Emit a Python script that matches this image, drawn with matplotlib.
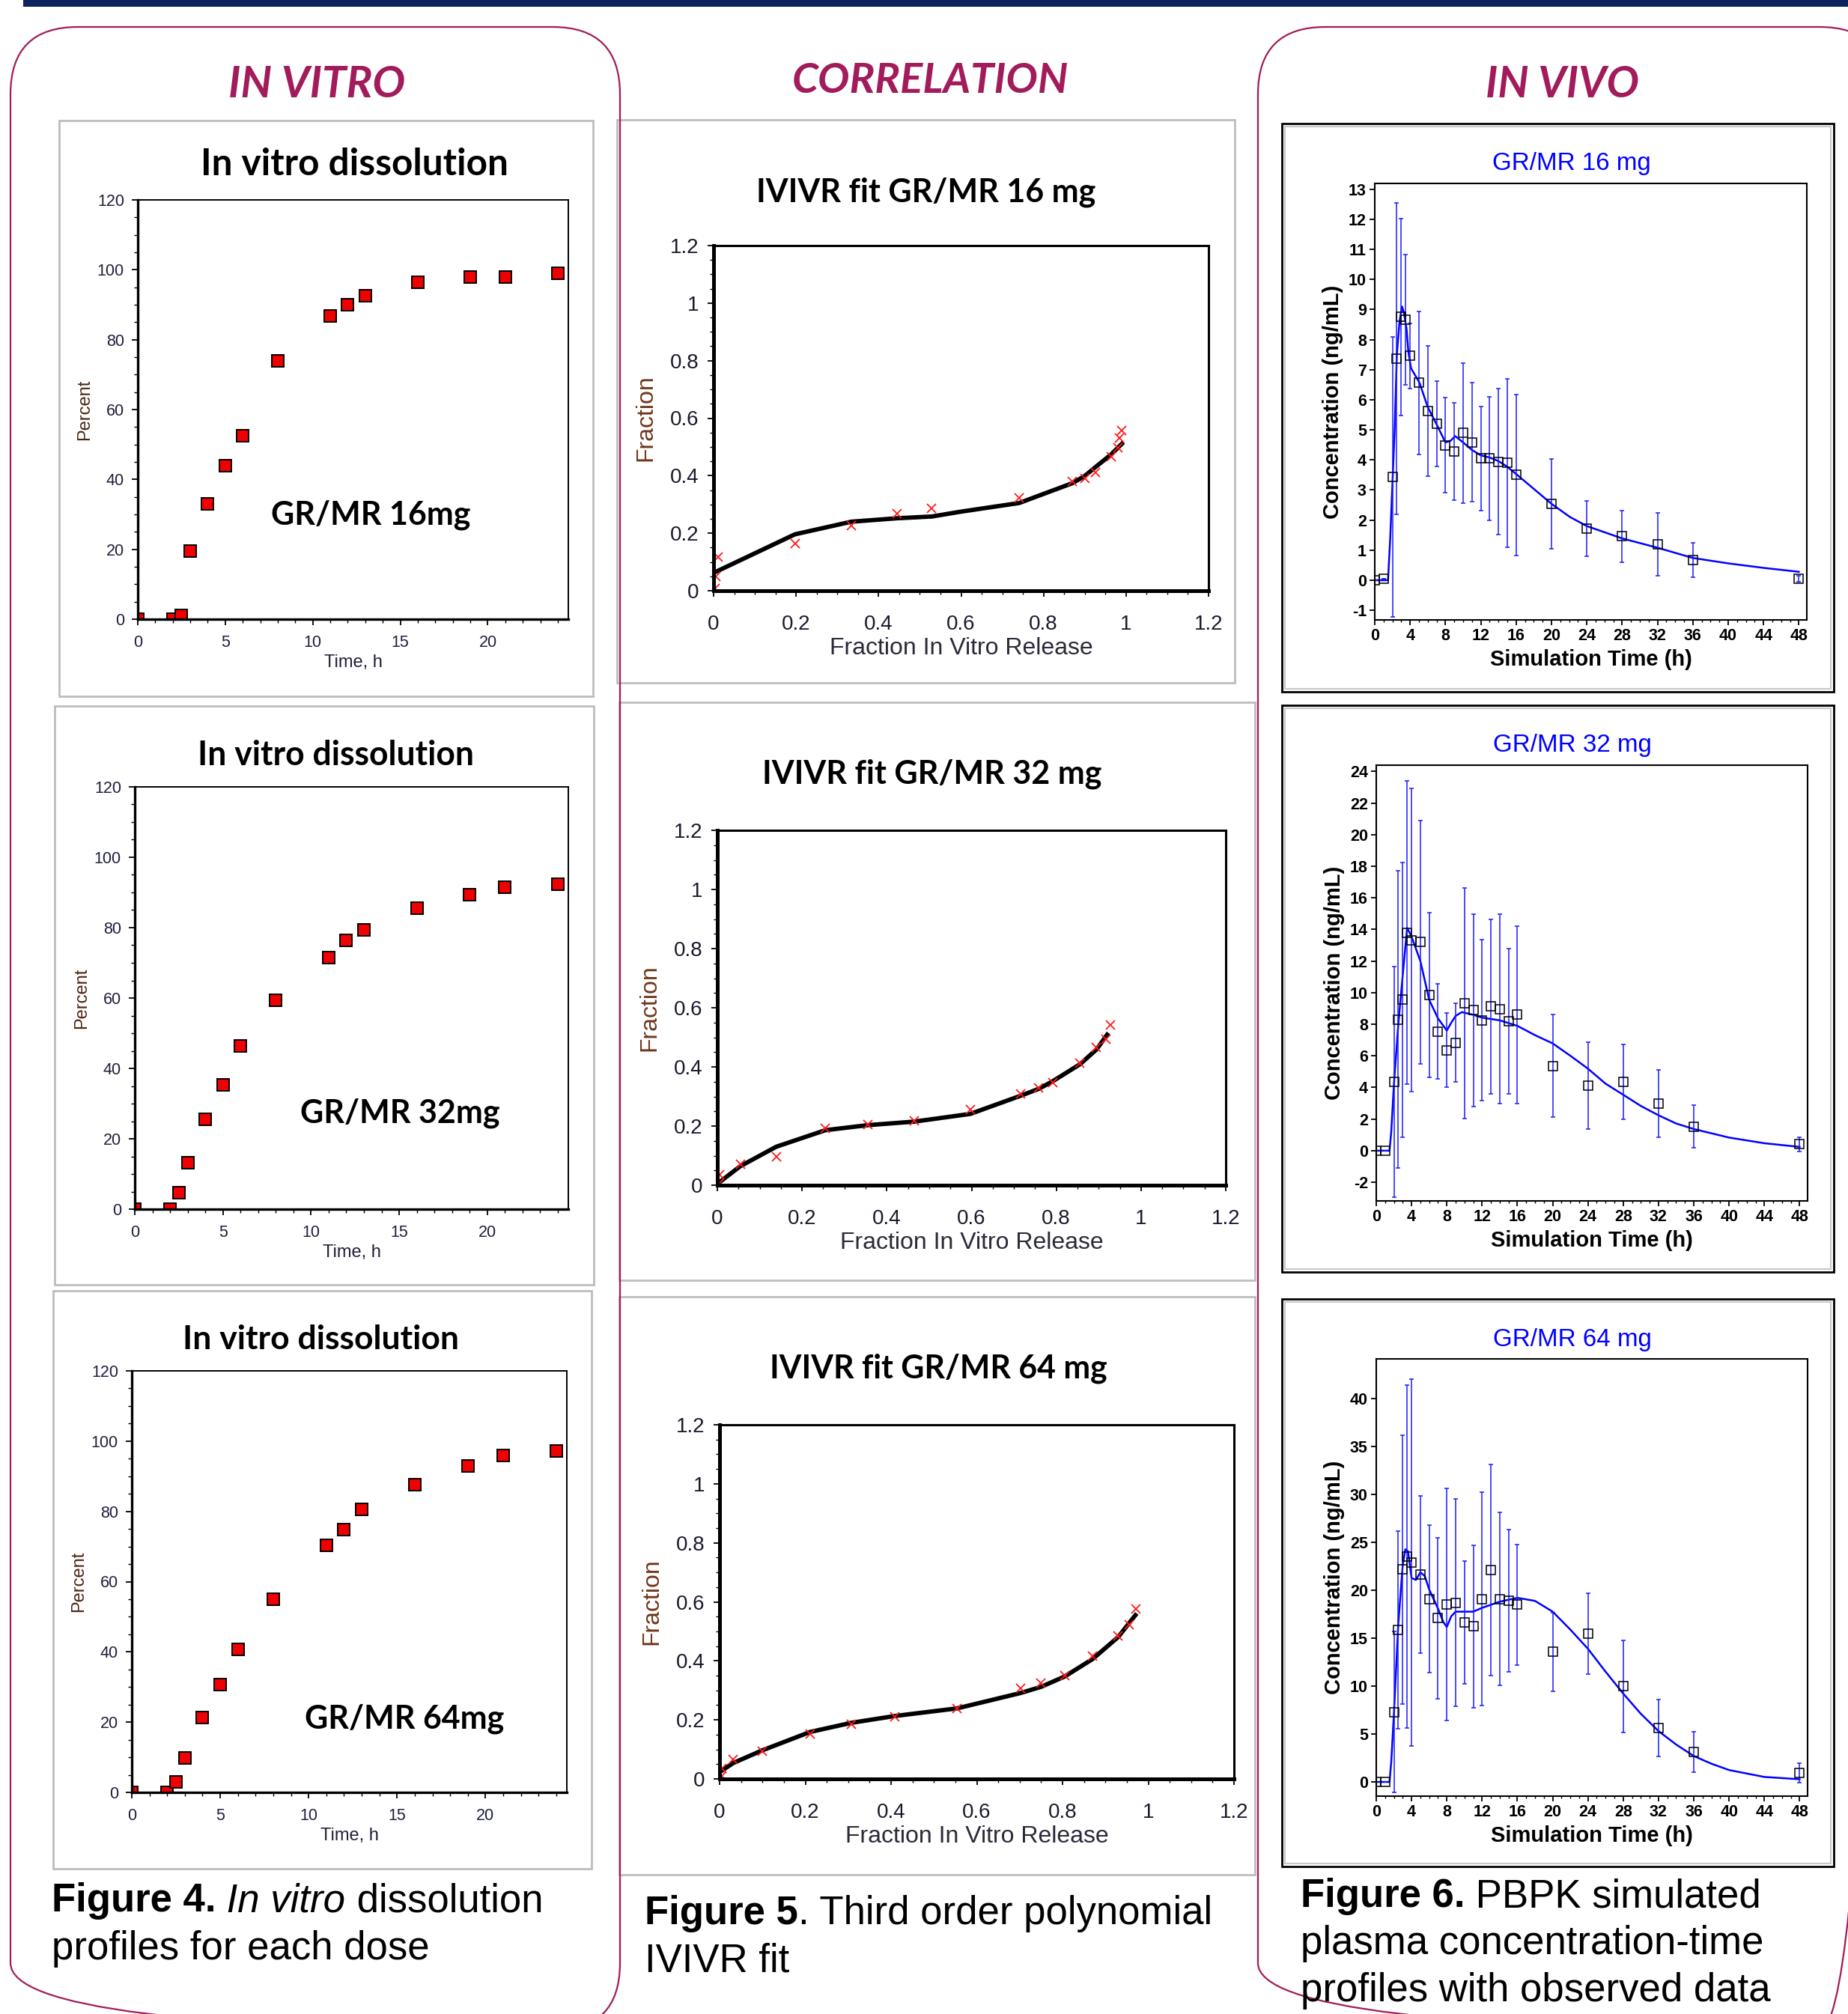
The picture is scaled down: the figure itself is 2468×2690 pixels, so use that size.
import matplotlib.pyplot as plt
from matplotlib.patches import FancyBboxPatch, Rectangle
from matplotlib.ticker import MultipleLocator, FuncFormatter

plt.rcParams['font.family'] = ['Liberation Sans', 'DejaVu Sans']
plt.rcParams['axes.unicode_minus'] = False

W, H = 2468, 2690
CRIMSON = '#A21B5B'
NAVY = '#0B2160'
TITLE_FONT = ['Lato', 'DejaVu Sans']

# ---- in vitro dissolution (percent released vs time, h) ----
vitro_time = [0, 2, 2.5, 3, 4, 5, 6, 8, 11, 12, 13, 16, 19, 21, 24]
vitro_16 = [0, 0, 1, 19.5, 33, 44, 52.5, 74, 86.8, 90, 92.6, 96.4, 98, 98, 99]
vitro_32 = [0, 0, 4.6, 13.2, 25.5, 35.3, 46.3, 59.3, 71.5, 76.3, 79.3, 85.5, 89.4, 91.5, 92.4]
vitro_64 = [0, 0, 2.9, 9.8, 21.4, 30.6, 40.8, 54.9, 70.4, 74.9, 80.5, 87.7, 92.9, 95.9, 97.1]

# ---- IVIVR: observed fraction (red x) and fitted line ----
ivivr_16_obs_x = [0.01, 0.005, 0.004, 0.197, 0.334, 0.445, 0.529, 0.741, 0.870, 0.900, 0.926, 0.964, 0.981, 0.984, 0.990]
ivivr_16_obs_y = [0.118, 0.05, 0.009, 0.164, 0.227, 0.268, 0.287, 0.324, 0.380, 0.390, 0.411, 0.467, 0.498, 0.530, 0.557]
ivivr_16_fit_x = [0, 0.197, 0.334, 0.445, 0.529, 0.6, 0.741, 0.870, 0.900, 0.926, 0.964, 0.990]
ivivr_16_fit_y = [0.062, 0.196, 0.240, 0.252, 0.258, 0.275, 0.305, 0.374, 0.399, 0.430, 0.474, 0.511]

ivivr_32_obs_x = [0.006, 0.004, 0.054, 0.139, 0.255, 0.355, 0.465, 0.597, 0.715, 0.759, 0.791, 0.856, 0.895, 0.917, 0.927]
ivivr_32_obs_y = [0.035, 0.006, 0.070, 0.097, 0.192, 0.206, 0.217, 0.256, 0.310, 0.328, 0.347, 0.413, 0.465, 0.494, 0.541]
ivivr_32_fit_x = [0.004, 0.054, 0.139, 0.255, 0.355, 0.465, 0.597, 0.715, 0.759, 0.791, 0.856, 0.895, 0.920]
ivivr_32_fit_y = [0.009, 0.064, 0.130, 0.186, 0.203, 0.215, 0.241, 0.302, 0.326, 0.351, 0.409, 0.459, 0.509]

ivivr_64_obs_x = [0.006, 0.005, 0.032, 0.100, 0.211, 0.307, 0.408, 0.554, 0.702, 0.750, 0.805, 0.870, 0.930, 0.956, 0.972]
ivivr_64_obs_y = [0.035, 0.009, 0.065, 0.093, 0.152, 0.186, 0.210, 0.239, 0.307, 0.324, 0.350, 0.417, 0.485, 0.522, 0.577]
ivivr_64_fit_x = [0.0, 0.032, 0.100, 0.211, 0.307, 0.408, 0.554, 0.702, 0.750, 0.805, 0.870, 0.930, 0.970]
ivivr_64_fit_y = [0.023, 0.054, 0.097, 0.159, 0.190, 0.213, 0.239, 0.291, 0.312, 0.347, 0.406, 0.481, 0.555]

# ---- in vivo: observed mean +/- sd and PBPK simulation (ng/mL) ----
vivo_time = [0, 1, 2, 2.5, 3, 3.5, 4, 5, 6, 7, 8, 9, 10, 11, 12, 13, 14, 15, 16, 20, 24, 28, 32, 36, 48]

vivo_16_obs = [0, 0.06, 3.44, 7.36, 8.75, 8.66, 7.46, 6.56, 5.63, 5.2, 4.49, 4.29, 4.89, 4.58, 4.05, 4.05,
               3.94, 3.9, 3.5, 2.54, 1.71, 1.46, 1.2, 0.68, 0.04]
vivo_16_sd = [0, 0, 4.65, 5.18, 3.28, 2.16, 1.08, 2.38, 2.16, 1.42, 1.58, 1.62, 2.33, 1.98, 1.73, 2.05,
              2.43, 2.8, 2.68, 1.49, 0.92, 0.86, 1.04, 0.57, 0.1]
sim_16_t = [0, 1.5, 1.75, 2.04, 2.25, 2.5, 2.8, 3.08, 3.3, 3.6, 3.8, 4.1, 5.07, 6, 7.07, 8, 8.6, 9.1, 10, 11,
            12, 13, 14, 15, 16, 17.5, 20, 22.1, 24, 28, 32, 36, 40, 44, 48]
sim_16_c = [0, 0, 1.4, 3.5, 5.0, 7.5, 8.6, 9.1, 8.9, 8.35, 7.6, 7.05, 6.56, 5.75, 5.14, 4.58, 4.64, 4.79, 4.58,
            4.33, 4.15, 4.08, 3.96, 3.77, 3.53, 3.16, 2.54, 2.1, 1.8, 1.39, 1.08, 0.74, 0.56, 0.41, 0.28]

vivo_32_obs = [0, 0, 4.36, 8.3, 9.55, 13.79, 13.32, 13.2, 9.85, 7.54, 6.36, 6.84, 9.31, 8.89, 8.25, 9.12,
               8.96, 8.2, 8.6, 5.37, 4.13, 4.36, 2.99, 1.53, 0.42]
vivo_32_sd = [0, 0, 7.3, 9.4, 8.7, 9.6, 9.6, 7.7, 5.2, 3.0, 2.36, 2.5, 7.3, 6.1, 5.1, 5.5, 6.0, 4.6, 5.6,
              3.24, 2.74, 2.36, 2.13, 1.35, 0.45]
sim_32_t = [0, 1.5, 1.7, 2.0, 2.5, 3.0, 3.5, 4.0, 5.0, 6.0, 7.0, 8.0, 8.5, 9.0, 9.7, 11, 12, 14, 16, 18, 20,
            22, 24, 26, 28, 30, 32, 34, 36, 40, 44, 48]
sim_32_c = [0, 0, 1.2, 4.2, 8.0, 11.1, 14.1, 13.55, 12.0, 9.55, 8.37, 7.6, 8.1, 8.53, 8.77, 8.6, 8.42, 8.25,
            7.9, 7.31, 6.79, 6.01, 5.19, 4.24, 3.54, 2.83, 2.24, 1.72, 1.37, 0.83, 0.47, 0.24]

vivo_64_obs = [0, 0, 7.3, 15.88, 22.14, 23.5, 22.86, 21.6, 19.07, 17.07, 18.47, 18.67, 16.6, 16.2, 19.07,
               22.06, 19.07, 18.87, 18.47, 13.56, 15.44, 9.97, 5.62, 3.11, 0.92]
vivo_64_sd = [0, 0, 8.4, 10.3, 14.0, 17.9, 19.1, 8.2, 7.7, 8.4, 12.1, 10.8, 6.4, 8.5, 11.1, 11.0, 9.0, 7.4,
              6.3, 4.1, 4.2, 4.8, 3.0, 2.1, 1.0]
sim_64_t = [0, 1.5, 1.7, 2.0, 2.5, 3.0, 3.3, 3.6, 4.0, 4.5, 5.0, 5.5, 6.0, 7.0, 7.6, 8.0, 8.5, 9.0, 10, 11,
            12, 14, 16, 18, 20, 22, 24, 26, 28, 30, 32, 34, 36, 38, 40, 44, 48]
sim_64_c = [0, 0, 2.1, 7.1, 16.5, 22.6, 24.25, 24.05, 21.26, 21.06, 21.86, 21.46, 20.06, 18.07, 16.67, 16.15,
            17.27, 17.75, 17.75, 17.75, 18.15, 18.79, 19.19, 18.87, 17.75, 15.88, 13.88, 11.49, 9.21, 7.1,
            5.3, 3.9, 2.7, 1.9, 1.24, 0.52, 0.28]

fig = plt.figure(figsize=(W / 100, H / 100), dpi=100)
renderer = fig.canvas.get_renderer()

# background layer in pixel units (y down)
bg = fig.add_axes([0, 0, 1, 1])
bg.set_xlim(0, W)
bg.set_ylim(H, 0)
bg.axis('off')


def add_ax(rect):
    l, t, r, b = rect
    return fig.add_axes([l / W, 1 - b / H, (r - l) / W, (b - t) / H])


def fit(txt, width):
    w = txt.get_window_extent(renderer).width
    txt.set_fontsize(txt.get_fontsize() * width / w)


def place_labels(ax, rect, xdy, ydx):
    l, t, r, b = rect
    ax.xaxis.set_label_coords(0.5, -xdy / (b - t))
    ax.yaxis.set_label_coords(-ydx / (r - l), 0.5)
    ax.xaxis.label.set_va('center')
    ax.yaxis.label.set_va('center')


def caption(x, y, parts, size=38):
    for s, weight, style in parts:
        kw = dict(fontsize=size, fontweight=weight, fontstyle=style)
        bg.text(x, y, s, va='baseline', ha='left', **kw)
        probe = bg.text(0, 0, s + '|', **kw)
        bar = bg.text(0, 0, '|', **kw)
        x += probe.get_window_extent(renderer).width - bar.get_window_extent(renderer).width
        probe.remove()
        bar.remove()


# ── frames ─────────────────────────────────────────
bg.add_patch(Rectangle((31, 0), W - 31, 9, color=NAVY, lw=0))

vitro_boxes = [(79, 161, 792, 930), (73, 943, 793, 1716), (71, 1724, 790, 2496)]
corr_boxes = [(824, 160, 1649, 912), (827, 938, 1676, 1710), (827, 1732, 1676, 2504)]
vivo_boxes = [(1712, 165, 2449, 924), (1712, 942, 2449, 1699), (1712, 1735, 2449, 2493)]

for x0, y0, x1, y1 in vitro_boxes + corr_boxes:
    bg.add_patch(Rectangle((x0, y0), x1 - x0, y1 - y0, fc='white', ec='#BDBDBD', lw=2))
for x0, y0, x1, y1 in vivo_boxes:
    bg.add_patch(Rectangle((x0, y0), x1 - x0, y1 - y0, fc='white', ec='black', lw=2))
    bg.add_patch(Rectangle((x0 + 4, y0 + 4), x1 - x0 - 8, y1 - y0 - 8, fc='none', ec='#C8C8C8', lw=1.5))

for x0, x1 in [(14, 828), (1680, 2520)]:
    bg.add_patch(FancyBboxPatch((x0, 36), x1 - x0, 2712 - 36, boxstyle='round,pad=0,rounding_size=90',
                                fc='none', ec=CRIMSON, lw=1.6))

for txt, cx, cy, w in [('IN VITRO', 423, 109, 236), ('CORRELATION', 1242, 103, 369), ('IN VIVO', 2086, 108, 205)]:
    t = bg.text(cx, cy, txt, ha='center', va='center_baseline', color=CRIMSON, fontsize=40,
                fontweight='bold', fontstyle='italic', family=TITLE_FONT)
    fit(t, w)

# ── in vitro dissolution ───────────────────────────
vitro_rects = [(184, 267, 759, 827), (180, 1051, 759, 1615), (176, 1831, 757, 2394)]
vitro_titles = [(473, 215, 411), (448, 1005, 370), (428, 1786, 369)]
vitro_tags = [('GR/MR 16mg', 13.3, 30.7), ('GR/MR 32mg', 15.05, 28.0), ('GR/MR 64mg', 15.4, 21.7)]

for rect, values, (cx, cy, tw), (tag, tx, ty) in zip(vitro_rects, [vitro_16, vitro_32, vitro_64],
                                                     vitro_titles, vitro_tags):
    ax = add_ax(rect)
    ax.plot(vitro_time, values, 's', ms=12, mfc='#F00000', mec='black', mew=1.4)
    ax.set_xlim(0, 24.6)
    ax.set_ylim(0, 120)
    ax.xaxis.set_major_locator(MultipleLocator(5))
    ax.xaxis.set_minor_locator(MultipleLocator(1))
    ax.yaxis.set_major_locator(MultipleLocator(20))
    ax.yaxis.set_minor_locator(MultipleLocator(5))
    ax.tick_params(which='major', direction='out', length=6, width=1.3, labelsize=15.5, labelcolor='#1F1F3D')
    ax.tick_params(which='minor', direction='out', length=3.5, width=1)
    ax.tick_params(axis='x', which='major', pad=9)
    ax.tick_params(axis='y', which='major', pad=7)
    for s in ['left', 'bottom']:
        ax.spines[s].set_linewidth(2.4)
    for s in ['top', 'right']:
        ax.spines[s].set_linewidth(1.4)
    ax.set_xlabel('Time, h', fontsize=17, color='#202038')
    ax.set_ylabel('Percent', fontsize=17, color='#4D2412')
    place_labels(ax, rect, 58, 71)
    t = ax.text(tx, ty, tag, ha='center', va='center_baseline', fontsize=32, fontweight='bold', family=TITLE_FONT)
    fit(t, 267)
    t = bg.text(cx, cy, 'In vitro dissolution', ha='center', va='center_baseline', fontsize=32,
                fontweight='bold', family=TITLE_FONT)
    fit(t, tw)

# ── IVIVR correlation ──────────────────────────────
corr_rects = [(953, 328, 1614, 789), (958, 1109, 1637, 1583), (961, 1903, 1648, 2376)]
corr_titles = [('IVIVR fit GR/MR 16 mg', 1237, 253, 454), ('IVIVR fit GR/MR 32 mg', 1245, 1030, 454),
               ('IVIVR fit GR/MR 64 mg', 1253, 1824, 451)]
corr_series = [(ivivr_16_obs_x, ivivr_16_obs_y, ivivr_16_fit_x, ivivr_16_fit_y),
               (ivivr_32_obs_x, ivivr_32_obs_y, ivivr_32_fit_x, ivivr_32_fit_y),
               (ivivr_64_obs_x, ivivr_64_obs_y, ivivr_64_fit_x, ivivr_64_fit_y)]

for rect, (ox, oy, fx, fy), (title, cx, cy, tw) in zip(corr_rects, corr_series, corr_titles):
    ax = add_ax(rect)
    ax.plot(fx, fy, color='black', lw=4.2)
    ax.plot(ox, oy, 'x', color='#FF1A1A', ms=9, mew=1.3)
    ax.set_xlim(0, 1.2)
    ax.set_ylim(0, 1.2)
    for axis in [ax.xaxis, ax.yaxis]:
        axis.set_major_locator(MultipleLocator(0.2))
        axis.set_minor_locator(MultipleLocator(0.05))
        axis.set_major_formatter(FuncFormatter(lambda v, p: f'{v:g}'))
    ax.tick_params(which='major', direction='out', length=6, width=1.3, labelsize=20, labelcolor='#1A1A2E')
    ax.tick_params(which='minor', direction='out', length=3.5, width=1)
    ax.tick_params(axis='x', which='major', pad=17)
    ax.tick_params(axis='y', which='major', pad=8)
    for s in ['left', 'bottom']:
        ax.spines[s].set_linewidth(3.6)
    for s in ['top', 'right']:
        ax.spines[s].set_linewidth(2.2)
    ax.set_xlabel('Fraction In Vitro Release', fontsize=23, color='#2A2A3A')
    ax.set_ylabel('Fraction', fontsize=23, color='#6E3519')
    place_labels(ax, rect, 77, 91)
    t = bg.text(cx, cy, title, ha='center', va='center_baseline', fontsize=32, fontweight='bold',
                family=TITLE_FONT)
    fit(t, tw)

# ── in vivo PBPK ───────────────────────────────────
vivo_rects = [(1836, 245, 2413, 828), (1838, 1022, 2414, 1604), (1838, 1815, 2414, 2399)]
vivo_titles = [('GR/MR 16 mg', 2099, 215), ('GR/MR 32 mg', 2100, 992), ('GR/MR 64 mg', 2100, 1786)]
vivo_series = [(vivo_16_obs, vivo_16_sd, sim_16_t, sim_16_c, (-1.32, 13.19), 1),
               (vivo_32_obs, vivo_32_sd, sim_32_t, sim_32_c, (-3.18, 24.4), 2),
               (vivo_64_obs, vivo_64_sd, sim_64_t, sim_64_c, (-1.48, 44.1), 5)]

for rect, (obs, sd, st, sc, ylim, ystep), (title, cx, cy) in zip(vivo_rects, vivo_series, vivo_titles):
    ax = add_ax(rect)
    ax.plot(st, sc, color='#0000FF', lw=1.8)
    ax.errorbar(vivo_time, obs, yerr=sd, fmt='s', ms=8.5, mfc='none', mec='black', mew=1.1,
                ecolor='#1A1AFF', elinewidth=1.1, capsize=2.5, capthick=1.1)
    ax.set_xlim(0, 48.9)
    ax.set_ylim(*ylim)
    ax.xaxis.set_major_locator(MultipleLocator(4))
    ax.xaxis.set_minor_locator(MultipleLocator(1))
    ax.yaxis.set_major_locator(MultipleLocator(ystep))
    ax.tick_params(which='major', direction='out', length=5, width=1.3, labelsize=15.5, pad=3)
    ax.tick_params(which='minor', direction='out', length=2.5, width=1)
    for s in ax.spines.values():
        s.set_linewidth(1.5)
    plt.setp(ax.get_xticklabels() + ax.get_yticklabels(), fontweight='bold')
    ax.set_xlabel('Simulation Time (h)', fontsize=21, fontweight='bold')
    ax.set_ylabel('Concentration (ng/mL)', fontsize=21, fontweight='bold')
    place_labels(ax, rect, 53, 56)
    t = bg.text(cx, cy, title, ha='center', va='center_baseline', fontsize=24, color='#0000FF')
    fit(t, 212)

# ── figure captions ────────────────────────────────
caption(69, 2553, [('Figure 4.', 'bold', 'normal'), (' In vitro', 'normal', 'italic'),
                   (' dissolution', 'normal', 'normal')])
caption(69, 2617, [('profiles for each dose', 'normal', 'normal')])
caption(861, 2570, [('Figure 5', 'bold', 'normal'), ('. Third order polynomial', 'normal', 'normal')])
caption(861, 2633, [('IVIVR fit', 'normal', 'normal')])
caption(1737, 2547, [('Figure 6.', 'bold', 'normal'), (' PBPK simulated', 'normal', 'normal')])
caption(1737, 2610, [('plasma concentration-time', 'normal', 'normal')])
caption(1737, 2673, [('profiles with observed data', 'normal', 'normal')])

fig.savefig('out.png', dpi=100)
